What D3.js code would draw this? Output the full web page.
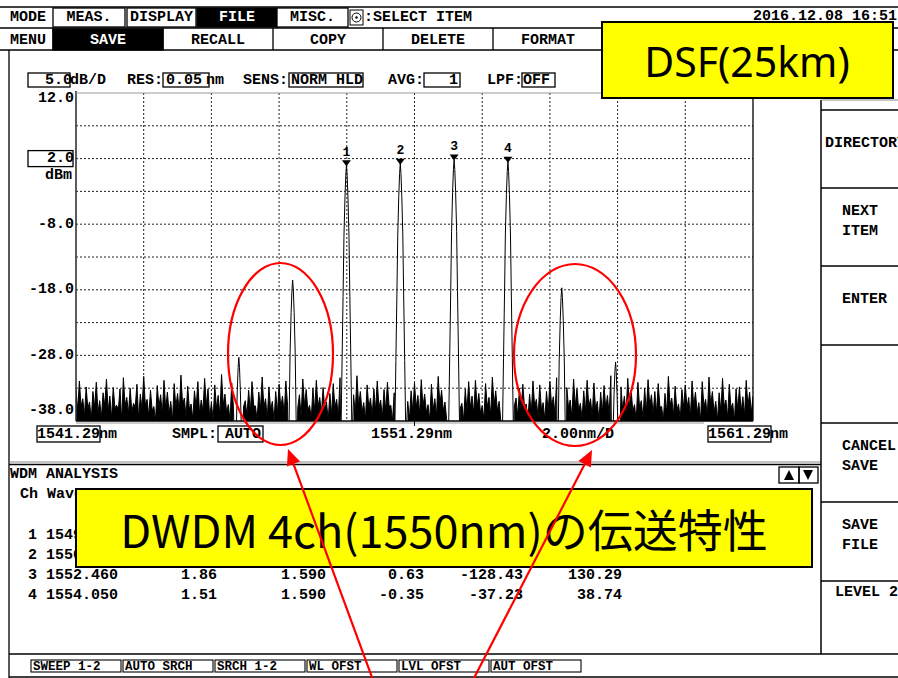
<!DOCTYPE html>
<html><head><meta charset="utf-8">
<script src="https://cdn.jsdelivr.net/npm/d3@7"></script>
<style>body{margin:0;background:#fff} svg{display:block}</style>
</head><body><svg id="c" width="898" height="678"></svg>
<script>
// ---- spectrum data ----
const wlStart = 1541.29, wlStop = 1561.29;
const levelTop = 12, levelBottom = -38;
const yTickValues = [12, 2, -8, -18, -28, -38];
const refLevel = 2;
const channelNo = [1, 2, 3, 4];
const channelWl = [1549.280, 1550.870, 1552.460, 1554.050];
const channelLevel = [0.98, 1.23, 1.86, 1.51];
// four-wave-mixing products beside the channel group
const fwmWl = [1546.10, 1547.69, 1555.64, 1557.23];
const fwmLevel = [-28.3, -16.5, -17.7, -29.0];
// measured line shape at 0.05 nm resolution (offset nm, relative dB)
const lineOffset = [0, 0.02, 0.045, 0.075, 0.10, 0.13, 0.165];
const lineRel = [0, -1.5, -5, -11, -20, -30, -42];
// noise floor trace: maxima every 0.1 nm, minima half way between
const noiseStep = 0.1;
const noiseHi = [
-33.2,-31.9,-34.6,-32.8,-35.1,-33.5,-32.1,-34.9,-33.7,-31.6,
-34.2,-32.9,-35.6,-33.1,-31.4,-34.4,-33.0,-35.3,-32.4,-33.9,
-31.2,-34.7,-33.3,-35.8,-32.6,-34.0,-31.8,-33.6,-35.0,-32.3,
-33.8,-31.0,-34.5,-32.7,-35.4,-33.4,-32.0,-34.8,-31.5,-33.1,
-35.2,-32.5,-34.1,-30.9,-33.9,-35.5,-32.2,-34.3,-33.0,-31.7,
-34.9,-33.3,-32.0,-35.7,-33.6,-31.3,-34.6,-32.8,-35.0,-33.5,
-32.4,-34.2,-31.9,-33.7,-35.3,-32.6,-34.0,-31.6,-33.2,-35.6,
-33.0,-31.8,-34.4,-32.9,-35.1,-33.8,-32.3,-34.7,-31.4,-33.6,
-35.4,-32.7,-34.0,-31.1,-33.5,-35.2,-32.5,-34.5,-33.1,-31.9,
-34.8,-33.2,-32.1,-35.6,-33.7,-31.5,-34.3,-32.6,-35.0,-33.4,
-32.2,-34.1,-31.7,-33.9,-35.5,-32.4,-34.6,-31.2,-33.3,-35.1,
-33.6,-31.6,-34.9,-32.8,-35.3,-33.1,-32.0,-34.2,-31.8,-33.8,
-35.7,-32.3,-34.4,-31.3,-33.4,-35.0,-32.7,-34.0,-33.2,-31.5,
-34.5,-33.0,-32.4,-35.4,-33.9,-31.9,-34.7,-32.5,-35.2,-33.5,
-32.0,-34.3,-31.4,-33.7,-35.6,-32.9,-34.8,-31.6,-33.1,-35.3,
-33.4,-31.8,-34.6,-32.2,-35.0,-33.6,-32.6,-34.1,-31.1,-33.9,
-35.1,-32.8,-34.2,-31.5,-33.3,-35.5,-32.1,-34.9,-33.0,-31.7,
-34.0,-33.5,-32.3,-35.8,-33.8,-31.2,-34.5,-32.7,-35.4,-33.2,
-32.5,-34.4,-31.9,-33.6,-35.2,-32.0,-34.7,-31.3,-33.5,-35.0,
-33.7,-31.5,-34.8,-32.4,-35.3,-33.1,-32.8,-34.3,-31.8,-33.6,
-34.2];
const noiseLo = [
-36.4,-35.8,-37.2,-36.1,-37.8,-35.9,-36.7,-37.5,-35.7,-36.5,
-37.6,-36.0,-36.3,-38.0,-35.6,-36.9,-36.6,-35.9,-37.7,-36.2,
-35.7,-37.3,-36.4,-37.9,-35.8,-37.0,-36.1,-36.8,-38.0,-35.9,
-36.6,-35.5,-37.4,-36.3,-37.7,-36.0,-36.9,-36.5,-35.7,-37.5,
-37.9,-36.1,-37.1,-35.6,-36.7,-38.0,-35.8,-36.9,-36.3,-35.8,
-37.2,-36.6,-35.7,-37.8,-36.2,-35.9,-37.6,-36.4,-38.0,-36.8,
-36.0,-37.0,-35.6,-36.6,-37.9,-36.1,-37.3,-35.7,-36.4,-37.7,
-36.5,-35.8,-36.9,-36.3,-37.9,-37.1,-35.9,-37.4,-35.6,-36.7,
-38.0,-36.2,-36.8,-35.7,-36.6,-37.8,-36.0,-37.2,-36.4,-35.9,
-37.5,-36.4,-35.8,-38.0,-36.6,-35.6,-37.0,-36.1,-37.7,-36.5,
-35.9,-36.9,-35.8,-36.7,-37.9,-36.3,-37.3,-35.5,-36.5,-37.8,
-36.6,-35.7,-37.6,-36.1,-38.0,-36.5,-36.0,-36.9,-35.9,-36.8,
-37.7,-35.9,-37.1,-35.6,-36.5,-38.0,-36.2,-36.9,-36.4,-35.7,
-37.3,-36.5,-35.9,-37.9,-36.8,-35.8,-37.5,-36.3,-37.8,-36.6,
-35.7,-37.0,-35.6,-36.7,-38.0,-36.0,-37.4,-35.8,-36.4,-37.7,
-36.6,-35.8,-37.3,-36.2,-38.0,-36.7,-36.1,-37.1,-35.6,-36.9,
-37.8,-36.3,-36.9,-35.9,-36.5,-38.0,-36.0,-37.6,-36.6,-35.7,
-37.0,-36.8,-35.9,-37.9,-36.8,-35.6,-37.2,-36.4,-37.7,-36.1,
-36.0,-37.4,-35.8,-36.7,-38.0,-35.8,-37.3,-35.6,-36.7,-37.9,
-36.5,-35.9,-37.5,-36.1,-38.0,-36.3,-36.6,-37.2,-35.7,-36.8];

// ---- WDM analysis table (visible columns) ----
const tableCh = ["1", "2", "3", "4"];
const tableWl = ["1549.280", "1550.870", "1552.460", "1554.050"];
const tableLevel = [null, null, "1.86", "1.51"];
const tableSpacing = [null, null, "1.590", "1.590"];
const tableDiff = [null, null, "0.63", "-0.35"];
const tableCol5 = [null, null, "-128.43", "-37.23"];
const tableCol6 = [null, null, "130.29", "38.74"];

// ---- menus and soft keys ----
const modeItems = ["MEAS.", "DISPLAY", "FILE", "MISC."];
const menuItems = ["SAVE", "RECALL", "COPY", "DELETE", "FORMAT"];
const sideKeys = [["DIRECTORY"], ["NEXT", "ITEM"], ["ENTER"], [], ["CANCEL", "SAVE"], ["SAVE", "FILE"]];
const bottomKeys = ["SWEEP 1-2", "AUTO SRCH", "SRCH 1-2", "WL OFST", "LVL OFST", "AUT OFST"];

const svg = d3.select("#c");
const UI = "'Liberation Mono', 'DejaVu Sans Mono', monospace";

function txt(g, x, y, s, o = {}) {
  return g.append("text").attr("x", x).attr("y", y).text(s)
    .attr("font-family", o.family || UI)
    .attr("font-size", o.size || 15)
    .attr("font-weight", o.weight || "bold")
    .attr("fill", o.fill || "#000")
    .attr("text-anchor", o.anchor || "start")
    .attr("dominant-baseline", "central");
}
function box(g, x0, y0, x1, y1, o = {}) {
  return g.append("rect").attr("x", x0).attr("y", y0).attr("width", x1 - x0).attr("height", y1 - y0)
    .attr("fill", o.fill || "none").attr("stroke", o.stroke || "#000").attr("stroke-width", o.sw || 1.3);
}
function hline(g, x0, x1, yy, o = {}) {
  g.append("line").attr("x1", x0).attr("x2", x1).attr("y1", yy).attr("y2", yy)
    .attr("stroke", o.stroke || "#000").attr("stroke-width", o.sw || 1.3);
}
function vline(g, xx, y0, y1, o = {}) {
  g.append("line").attr("x1", xx).attr("x2", xx).attr("y1", y0).attr("y2", y1)
    .attr("stroke", o.stroke || "#000").attr("stroke-width", o.sw || 1.3);
}

const ui = svg.append("g");

// ---- top menu rows ----
hline(ui, 0, 898, 7);
hline(ui, 0, 898, 28);
hline(ui, 0, 898, 50);
txt(ui, 10, 17, "MODE");
const modeX = [[53, 125], [127, 196], [197, 277], [277, 348]];
modeItems.forEach((m, i) => {
  const [a, b] = modeX[i];
  const active = m === "FILE";
  box(ui, a, 8, b, 27, { fill: active ? "#000" : "#fff" });
  txt(ui, (a + b) / 2, 17, m, { anchor: "middle", fill: active ? "#fff" : "#000" });
});
box(ui, 350, 10, 363, 25, { sw: 1 });
ui.append("circle").attr("cx", 356.5).attr("cy", 17.5).attr("r", 4.5).attr("fill", "none").attr("stroke", "#000").attr("stroke-width", 1);
ui.append("circle").attr("cx", 356.5).attr("cy", 17.5).attr("r", 1.2).attr("fill", "#000");
txt(ui, 364, 17, ":SELECT ITEM");
txt(ui, 897, 16, "2016.12.08 16:51", { anchor: "end" });

txt(ui, 10, 40, "MENU");
vline(ui, 53, 28, 50);
menuItems.forEach((m, i) => {
  const a = 53 + i * 110, b = a + 110;
  const active = m === "SAVE";
  if (active) box(ui, a, 29, b, 50, { fill: "#000" });
  vline(ui, b, 28, 50);
  txt(ui, (a + b) / 2, 40, m, { anchor: "middle", fill: active ? "#fff" : "#000" });
});

// ---- measurement condition row ----
box(ui, 28, 73, 70, 87);
txt(ui, 72, 80, "5.0", { anchor: "end" });
txt(ui, 70, 80, "dB/D");
txt(ui, 127, 80, "RES:");
box(ui, 163, 73, 209, 87);
txt(ui, 166, 80, "0.05");
txt(ui, 206, 80, "nm");
txt(ui, 243, 80, "SENS:");
box(ui, 289, 73, 363, 87);
txt(ui, 291, 80, "NORM HLD");
txt(ui, 388, 80, "AVG:");
box(ui, 424, 73, 460, 87);
txt(ui, 458, 80, "1", { anchor: "end" });
txt(ui, 487, 80, "LPF:");
box(ui, 522, 73, 555, 87);
txt(ui, 523, 80, "OFF");

// ---- frame lines ----
vline(ui, 9, 50, 678);
hline(ui, 9, 821, 462, { stroke: "#888", sw: 1 });
hline(ui, 9, 821, 464.5, { sw: 1.5 });
hline(ui, 9, 898, 654, { sw: 1.5 });
hline(ui, 9, 898, 677, { sw: 1.5 });
vline(ui, 821, 100, 654, { sw: 1.5 });
hline(ui, 821, 898, 100, { stroke: "#888", sw: 1 });
const keyLines = [110, 188, 266, 345, 423, 502, 581];
keyLines.forEach(v => hline(ui, 821, 898, v, { sw: 1.6 }));
sideKeys.forEach((k, i) => {
  const mid = (keyLines[i] + keyLines[i + 1]) / 2;
  k.forEach((s, j) => {
    const yy = mid + (j - (k.length - 1) / 2) * 20 - 6;
    txt(ui, i === 0 ? 825 : 842, yy, s);
  });
});
txt(ui, 835, 592, "LEVEL 2");

// ---- spectrum chart ----
const x = d3.scaleLinear().domain([wlStart, wlStop]).range([76, 753]);
const y = d3.scaleLinear().domain([levelBottom, levelTop]).range([421, 93]);
const chart = svg.append("g");
svg.append("defs").append("clipPath").attr("id", "plot")
  .append("rect").attr("x", x.range()[0]).attr("y", y.range()[1])
  .attr("width", x.range()[1] - x.range()[0]).attr("height", y.range()[0] - y.range()[1]);

const xGrid = d3.range(1, 10).map(i => wlStart + i * (wlStop - wlStart) / 10);
const yGrid = d3.range(1, 10).map(i => levelBottom + i * (levelTop - levelBottom) / 10);
chart.selectAll(".vg").data(xGrid).join("line")
  .attr("x1", d => x(d)).attr("x2", d => x(d)).attr("y1", y(levelTop)).attr("y2", y(levelBottom))
  .attr("stroke", "#222").attr("stroke-width", 1).attr("stroke-dasharray", "2,2");
chart.selectAll(".hg").data(yGrid).join("line")
  .attr("x1", x(wlStart)).attr("x2", x(wlStop)).attr("y1", d => y(d)).attr("y2", d => y(d))
  .attr("stroke", "#222").attr("stroke-width", 1).attr("stroke-dasharray", "2,2");

// build the trace: noise floor with the line shapes spliced in
const peaks = channelWl.map((w, i) => ({ wl: w, lv: channelLevel[i] }))
  .concat(fwmWl.map((w, i) => ({ wl: w, lv: fwmLevel[i] })));
let pts = [];
noiseHi.forEach((v, i) => pts.push({ w: wlStart + i * noiseStep, v, pk: false }));
noiseLo.forEach((v, i) => pts.push({ w: wlStart + (i + 0.5) * noiseStep, v, pk: false }));
peaks.forEach(p => {
  const shape = lineOffset.map((o, k) => [o, p.lv + lineRel[k]]).filter(d => d[1] > -50);
  const half = shape[shape.length - 1][0];
  pts = pts.filter(d => Math.abs(d.w - p.wl) > half + 0.01);
  shape.forEach(([o, v]) => {
    pts.push({ w: p.wl - o, v, pk: true });
    if (o > 0) pts.push({ w: p.wl + o, v, pk: true });
  });
});
pts.sort((a, b) => a.w - b.w);
const traceG = chart.append("g").attr("clip-path", "url(#plot)");
// the dense sweep samples merge into a solid floor between the lines
traceG.append("path")
  .attr("d", d3.area().defined(d => !d.pk).x(d => x(d.w)).y0(y(levelBottom) + 2).y1(d => y(d.v))(pts))
  .attr("fill", "#000");
traceG.append("path")
  .attr("d", d3.line().x(d => x(d.w)).y(d => y(d.v))(pts))
  .attr("fill", "none").attr("stroke", "#000").attr("stroke-width", 1);

// plot frame
vline(chart, x(wlStart), y(levelTop) - 2, y(levelBottom), { sw: 1.6, stroke: "#333" });
vline(chart, x(wlStop), y(levelTop) - 5, y(levelBottom), { sw: 1.3 });
hline(chart, x(wlStart), x(wlStop), y(levelTop), { stroke: "#999", sw: 1 });
hline(chart, x(wlStart), x(wlStop), y(levelBottom), { sw: 1.4 });
hline(chart, x(wlStart), 704, y(levelBottom) + 2, { stroke: "#999", sw: 1 });
vline(chart, x((wlStart + wlStop) / 2), y(levelBottom), y(levelBottom) + 5, { sw: 1 });

// channel markers
channelNo.forEach((n, i) => {
  const cx = x(channelWl[i]), cy = y(channelLevel[i]);
  chart.append("path").attr("d", `M${cx},${cy + 1}L${cx - 4.5},${cy - 5}L${cx + 4.5},${cy - 5}Z`).attr("fill", "#000");
  txt(chart, cx, cy - 13, String(n), { anchor: "middle", size: 13 });
});

// y labels
yTickValues.forEach(v => {
  const yy = Math.max(98, Math.min(410, y(v)));
  if (v === refLevel) {
    box(chart, 28, yy - 8, 73, yy + 8);
  }
  txt(chart, 74, yy, v.toFixed(1), { anchor: "end" });
});
txt(chart, 72, y(refLevel) + 17, "dBm", { anchor: "end" });

// x labels
const xl = 434;
box(chart, 37, xl - 8, 100, xl + 8);
txt(chart, 37, xl, wlStart.toFixed(2));
txt(chart, 99, xl, "nm");
txt(chart, 172, xl, "SMPL:");
box(chart, 218, xl - 8, 263, xl + 8);
txt(chart, 225, xl, "AUTO");
txt(chart, 371, xl, ((wlStart + wlStop) / 2).toFixed(2) + "nm");
txt(chart, 542, xl, ((wlStop - wlStart) / 10).toFixed(2) + "nm/D");
box(chart, 708, xl - 8, 771, xl + 8);
txt(chart, 708, xl, wlStop.toFixed(2));
txt(chart, 770, xl, "nm");

// ---- WDM analysis table ----
const tb = svg.append("g");
txt(tb, 10, 474, "WDM ANALYSIS");
txt(tb, 20, 494, "Ch Wave");
box(tb, 779, 467, 799, 483);
box(tb, 799, 467, 818, 483);
tb.append("path").attr("d", "M789,470L784,480L794,480Z").attr("fill", "#000");
tb.append("path").attr("d", "M803,470L813,470L808,480Z").attr("fill", "#000");
tableCh.forEach((c, i) => {
  const yy = 535 + i * 20;
  txt(tb, 28, yy, c);
  txt(tb, 46, yy, tableWl[i]);
  const cols = [[tableLevel, 217], [tableSpacing, 326], [tableDiff, 424], [tableCol5, 523], [tableCol6, 622]];
  cols.forEach(([arr, r]) => { if (arr[i] !== null) txt(tb, r, yy, arr[i], { anchor: "end" }); });
});

// bottom soft keys
bottomKeys.forEach((k, i) => {
  const a = 31 + i * 92, b = a + 90;
  box(tb, a, 660, b, 672, { sw: 1.1 });
  txt(tb, a + 2, 666.5, k, { size: 12.5 });
});

// ---- annotations ----
const an = svg.append("g");
an.append("ellipse").attr("cx", 280.5).attr("cy", 354).attr("rx", 52.5).attr("ry", 91)
  .attr("fill", "none").attr("stroke", "#ff0000").attr("stroke-width", 2.2);
an.append("ellipse").attr("cx", 575).attr("cy", 355).attr("rx", 61).attr("ry", 91)
  .attr("fill", "none").attr("stroke", "#ff0000").attr("stroke-width", 2.2);

box(an, 602, 22, 893, 98, { fill: "#ffff00", sw: 2 });
an.append("text").attr("x", 747).attr("y", 61).text("DSF(25km)")
  .attr("font-family", "'Noto Sans', 'Open Sans', sans-serif").attr("font-size", 41)
  .attr("text-anchor", "middle").attr("dominant-baseline", "central").attr("fill", "#000");

box(an, 76, 489, 812, 567, { fill: "#ffff00", sw: 2 });
an.append("text").attr("x", 444).attr("y", 528).text("DWDM 4ch(1550nm)の伝送特性")
  .attr("font-family", "'Noto Sans CJK JP', sans-serif").attr("font-size", 45)
  .attr("text-anchor", "middle").attr("dominant-baseline", "central").attr("fill", "#000");

function arrow(x0, y0, x1, y1) {
  const ang = Math.atan2(y1 - y0, x1 - x0), L = 16, W = 7;
  const bx = x1 - L * Math.cos(ang), by = y1 - L * Math.sin(ang);
  an.append("line").attr("x1", x0).attr("y1", y0).attr("x2", bx).attr("y2", by)
    .attr("stroke", "#ff0000").attr("stroke-width", 2.2);
  const px = -Math.sin(ang) * W, py = Math.cos(ang) * W;
  an.append("path").attr("d", `M${x1},${y1}L${bx + px},${by + py}L${bx - px},${by - py}Z`).attr("fill", "#ff0000");
}
arrow(373, 680, 288, 449);
arrow(473, 680, 592, 450);
</script></body></html>
